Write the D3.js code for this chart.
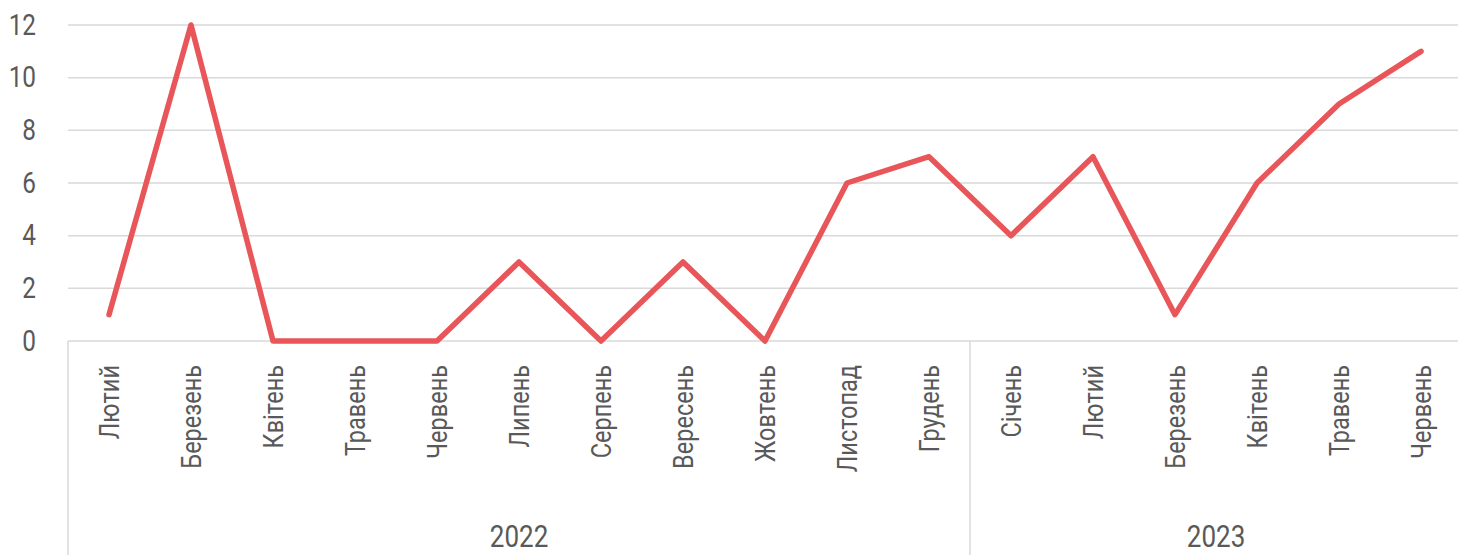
<!DOCTYPE html>
<html>
<head>
<meta charset="utf-8">
<script src="https://cdn.jsdelivr.net/npm/d3@7"></script>
<style>
  html, body { margin: 0; padding: 0; background: #fff; }
  svg { display: block; }
  text { font-family: Roboto, "Noto Sans", sans-serif; fill: #595959; }
</style>
</head>
<body>
<svg id="chart" width="1458" height="555"></svg>
<script>
// Data
var months = ['Лютий', 'Березень', 'Квітень', 'Травень', 'Червень', 'Липень', 'Серпень',
  'Вересень', 'Жовтень', 'Листопад', 'Грудень',
  'Січень', 'Лютий', 'Березень', 'Квітень', 'Травень', 'Червень'];
var years = ['2022', '2023'];
var monthsPerYear = [11, 6];
var values = [1, 12, 0, 0, 0, 3, 0, 3, 0, 6, 7, 4, 7, 1, 6, 9, 11];
var yTicks = [0, 2, 4, 6, 8, 10, 12];

var width = 1458;
var height = 555;
var left = 68;
var right = 1462;
var squeeze = 0.84; // fake a condensed face

var svg = d3.select('#chart');

var keys = months.map(function(m, i) { return i; });

var x = d3.scaleBand()
  .domain(keys)
  .range([left, right]);

var y = d3.scaleLinear()
  .domain([0, 12])
  .range([341, 25]);

// Gridlines
svg.append('g')
  .selectAll('line')
  .data(yTicks.filter(function(t) { return t > 0; }))
  .enter().append('line')
  .attr('x1', left)
  .attr('x2', width)
  .attr('y1', function(t) { return y(t); })
  .attr('y2', function(t) { return y(t); })
  .attr('stroke', '#d9d9d9')
  .attr('stroke-width', 1.5);

// Base axis line
svg.append('line')
  .attr('x1', left)
  .attr('x2', width)
  .attr('y1', y(0))
  .attr('y2', y(0))
  .attr('stroke', '#d9d9d9')
  .attr('stroke-width', 1.5);

// Year separators
var starts = [0];
monthsPerYear.forEach(function(n, i) { starts.push(starts[i] + n); });

svg.append('g')
  .selectAll('line')
  .data(starts.slice(0, -1))
  .enter().append('line')
  .attr('x1', function(s) { return x(s); })
  .attr('x2', function(s) { return x(s); })
  .attr('y1', y(0))
  .attr('y2', height)
  .attr('stroke', '#d9d9d9')
  .attr('stroke-width', 1.5);

// Y tick labels
svg.append('g')
  .selectAll('text')
  .data(yTicks)
  .enter().append('text')
  .attr('text-anchor', 'end')
  .attr('dominant-baseline', 'central')
  .attr('transform', function(t) { return 'translate(36,' + y(t) + ') scale(' + squeeze + ',1)'; })
  .style('font-size', '29px')
  .text(function(t) { return t; });

// Month labels (rotated)
svg.append('g')
  .selectAll('text')
  .data(keys)
  .enter().append('text')
  .attr('text-anchor', 'end')
  .attr('dominant-baseline', 'central')
  .attr('transform', function(k) {
    return 'translate(' + (x(k) + x.bandwidth() / 2) + ',365) rotate(-90) scale(' + squeeze + ',1)';
  })
  .style('font-size', '28px')
  .text(function(k) { return months[k]; });

// Year labels (kept just inside the bottom edge)
svg.append('g')
  .selectAll('text')
  .data(years)
  .enter().append('text')
  .attr('text-anchor', 'middle')
  .attr('transform', function(yr, i) {
    var a = x(starts[i]);
    var b = starts[i + 1] < keys.length ? x(starts[i + 1]) : right;
    return 'translate(' + ((a + b) / 2) + ',547) scale(' + squeeze + ',1)';
  })
  .style('font-size', '31px')
  .text(function(yr) { return yr; });

// The line
var line = d3.line()
  .x(function(d, i) { return x(i) + x.bandwidth() / 2; })
  .y(function(d) { return y(d); });

svg.append('path')
  .datum(values)
  .attr('d', line)
  .attr('fill', 'none')
  .attr('stroke', '#e8565a')
  .attr('stroke-width', 5.5)
  .attr('stroke-linejoin', 'round')
  .attr('stroke-linecap', 'round');
</script>
</body>
</html>
